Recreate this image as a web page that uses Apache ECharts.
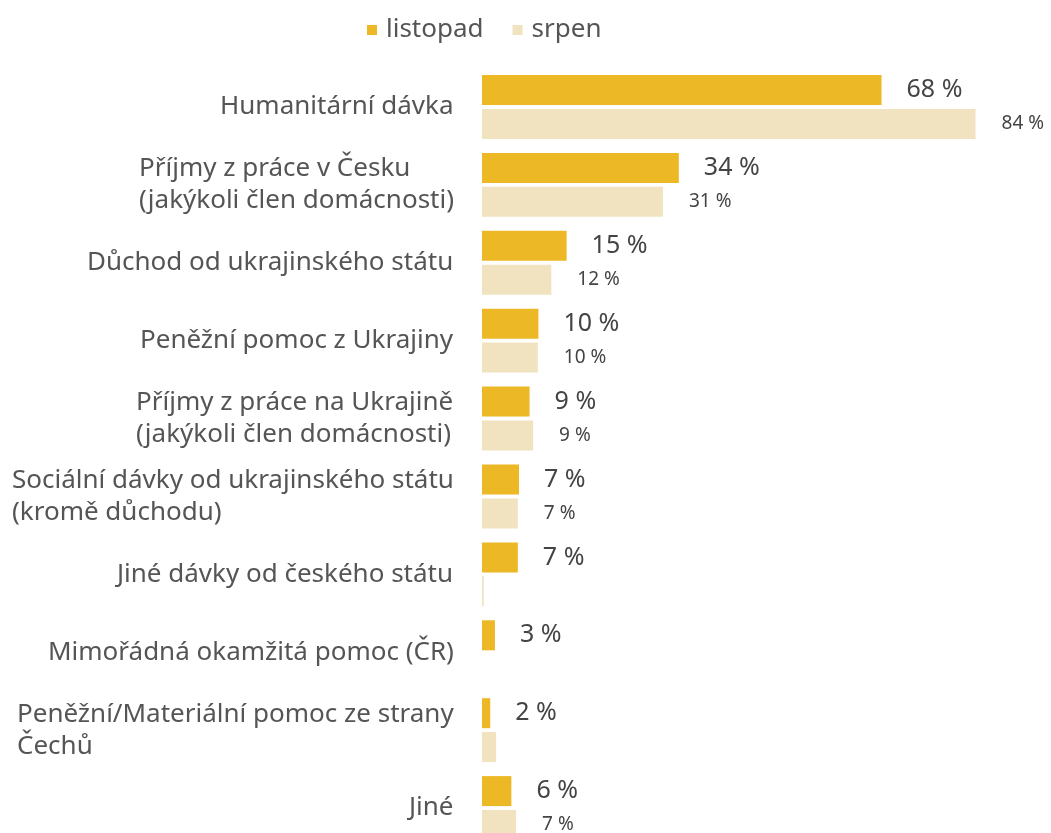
<!DOCTYPE html>
<html>
<head>
<meta charset="utf-8">
<script src="https://cdn.jsdelivr.net/npm/echarts@6/dist/echarts.min.js"></script>
<style>
  html, body { margin: 0; padding: 0; background: #fff; }
  #chart { width: 1051px; height: 833px; }
</style>
</head>
<body>
<div id="chart"></div>
<script>
const categories = [
  'Humanitární dávka',
  'Příjmy z práce v Česku\n(jakýkoli člen domácnosti)',
  'Důchod od ukrajinského státu',
  'Peněžní pomoc z Ukrajiny',
  'Příjmy z práce na Ukrajině\n(jakýkoli člen domácnosti)',
  'Sociální dávky od ukrajinského státu\n(kromě důchodu)',
  'Jiné dávky od českého státu',
  'Mimořádná okamžitá pomoc (ČR)',
  'Peněžní/Materiální pomoc ze strany\nČechů',
  'Jiné'
]
const seriesNames = ['listopad', 'srpen']
const listopad = [68, 33.5, 14.4, 9.6, 8.1, 6.3, 6.1, 2.2, 1.4, 5]
const srpen = [84, 30.8, 11.8, 9.5, 8.7, 6.1, 0.3, null, 2.4, 5.8]
const listopadLabels = ['68 %', '34 %', '15 %', '10 %', '9 %', '7 %', '7 %', '3 %', '2 %', '6 %']
const srpenLabels = ['84 %', '31 %', '12 %', '10 %', '9 %', '7 %', '', '', '', '7 %']

const FONT = 'Noto Sans'
const LABEL_SIZE = 26

// measure lines so multi-line labels keep their lines left-aligned inside a right-aligned block
const ctx = document.createElement('canvas').getContext('2d')
ctx.font = LABEL_SIZE + 'px "' + FONT + '"'
const rich = {}
categories.forEach((c, i) => {
  const w = Math.max(...c.split('\n').map(s => ctx.measureText(s).width))
  rich['c' + i] = {
    width: Math.ceil(w) + 1,
    align: 'left',
    fontFamily: FONT,
    fontSize: LABEL_SIZE,
    lineHeight: 32,
    color: '#555'
  }
})

const chart = echarts.init(document.getElementById('chart'), null, { renderer: 'canvas' })

chart.setOption({
  animation: false,
  textStyle: { fontFamily: FONT },
  legend: {
    top: 12,
    left: 362,
    itemWidth: 10,
    itemHeight: 10,
    itemGap: 29,
    icon: 'rect',
    textStyle: { fontSize: 26, color: '#555', fontFamily: FONT, padding: [0, 0, 0, 4] },
    data: seriesNames
  },
  grid: {
    left: 482,
    top: 68,
    width: 500,
    height: 779,
    outerBoundsMode: 'none',
    containLabel: false
  },
  xAxis: {
    type: 'value',
    min: 0,
    max: 85.1,
    show: false
  },
  yAxis: {
    type: 'category',
    inverse: true,
    data: categories,
    axisLine: { show: false },
    axisTick: { show: false },
    splitLine: { show: false },
    axisLabel: {
      margin: 27,
      formatter: (val) => {
        const i = categories.indexOf(val)
        return val.split('\n').map(s => '{c' + i + '|' + s + '}').join('\n')
      },
      rich
    }
  },
  series: [
    {
      name: seriesNames[0],
      type: 'bar',
      data: listopad,
      barWidth: 30,
      barGap: '13%',
      itemStyle: { color: '#ECB826' },
      label: {
        show: true,
        position: 'right',
        distance: 25,
        fontSize: 25,
        color: '#444',
        fontFamily: FONT,
        formatter: (p) => listopadLabels[p.dataIndex]
      }
    },
    {
      name: seriesNames[1],
      type: 'bar',
      data: srpen,
      barWidth: 30,
      itemStyle: { color: '#F1E3C0' },
      label: {
        show: true,
        position: 'right',
        distance: 26,
        fontSize: 19,
        color: '#444',
        fontFamily: FONT,
        formatter: (p) => srpenLabels[p.dataIndex]
      }
    }
  ]
})
</script>
</body>
</html>
